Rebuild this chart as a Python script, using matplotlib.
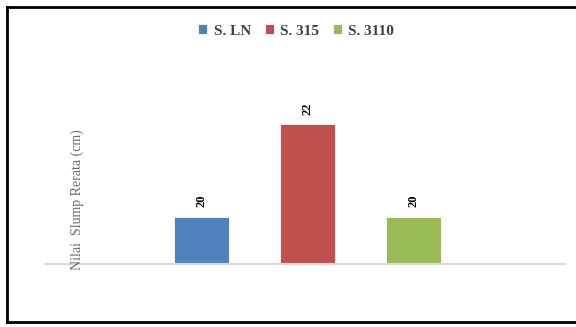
import numpy as np
import matplotlib.pyplot as plt
from matplotlib.lines import Line2D

# data
series = ['S. LN', 'S. 315', 'S. 3110']
values = [20, 22, 20]
colors = ['#4F81BD', '#C0504D', '#9BBB59']

W, H = 576, 327
fig = plt.figure(figsize=(W / 100, H / 100), dpi=100)

# outer frame: left, top and bottom edges only (right edge runs off the picture)
fx0, fy0, fy1 = 6.5 / W, (H - 321.5) / H, (H - 7) / H
for xs, ys in [([fx0, fx0], [fy0, fy1]), ([fx0, 1.0], [fy1, fy1]), ([fx0, 1.0], [fy0, fy0])]:
    fig.add_artist(Line2D(xs, ys, transform=fig.transFigure, color='black',
                          linewidth=2, solid_capstyle='projecting'))

ax = fig.add_axes([45 / W, (H - 263.5) / H, 520 / W, 218 / H])
x = np.arange(len(series))
bars = ax.bar(x, values, 0.52, bottom=0, color=colors, edgecolor='white',
              linewidth=0.6)
ax.set_ylim(19, 23.7)
ax.set_xlim(-1.476, 3.43)

for b, v in zip(bars, values):
    ax.annotate(str(v), (b.get_x() + b.get_width() / 2, v), xytext=(0, 7),
                textcoords='offset points', ha='center', va='bottom',
                rotation=90, fontsize=9, fontweight='bold', family='Liberation Serif')

for s in ['top', 'right', 'left']:
    ax.spines[s].set_visible(False)
ax.spines['bottom'].set_color('#D9D9D9')
ax.spines['bottom'].set_linewidth(1.5)
ax.set_xticks([])
ax.set_yticks([])

fig.text(77 / W, (H - 200) / H, 'Nilai  Slump Rerata (cm)', rotation=90,
         ha='center', va='center', fontsize=10, color='#6b6b6b',
         family='Liberation Serif')

leg = fig.legend(handles=list(bars), labels=series, loc='center',
                 bbox_to_anchor=(296 / W, (H - 31) / H), ncol=3, frameon=False,
                 prop={'family': 'Liberation Serif', 'weight': 'bold', 'size': 11},
                 handlelength=0.6, handleheight=0.6, handletextpad=0.4,
                 columnspacing=0.9)
for t in leg.get_texts():
    t.set_color('#404040')

fig.savefig('out.png', dpi=100)
